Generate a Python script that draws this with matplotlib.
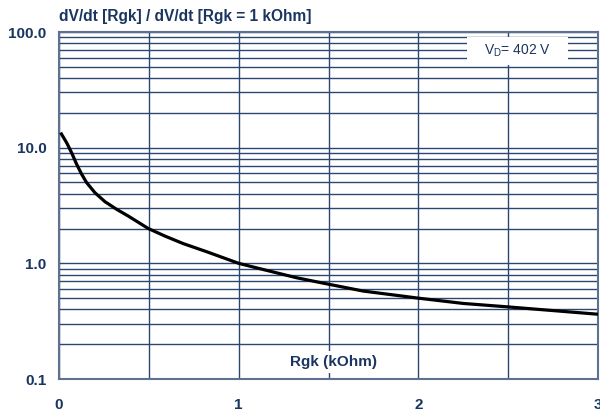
import matplotlib
matplotlib.use("Agg")
import matplotlib.pyplot as plt
from matplotlib.patches import Rectangle

# Data
rgk_kohm = [0.009, 0.043, 0.07, 0.098, 0.126, 0.154, 0.2, 0.256, 0.321, 0.386, 0.45,
            0.497, 0.59, 0.692, 0.822, 1.0, 1.109, 1.323, 1.5, 1.693, 2.0, 2.25,
            2.5, 2.71, 3.0]
ratio = [13.5, 11.0, 9.05, 7.2, 5.9, 4.98, 4.08, 3.41, 2.93, 2.56, 2.22,
         2.0, 1.72, 1.48, 1.26, 1.0, 0.906, 0.75, 0.66, 0.576, 0.50, 0.45,
         0.42, 0.395, 0.363]

x_ticks = [0, 1, 2, 3]
x_tick_labels = ["0", "1", "2", "3"]
x_minor = [0.5, 1.5, 2.5]
y_ticks = [0.1, 1.0, 10.0, 100.0]
y_tick_labels = ["0.1", "1.0", "10.0", "100.0"]

title = "dV/dt [Rgk] / dV/dt [Rgk = 1 kOhm]"
xlabel = "Rgk (kOhm)"
annot = "V$_\\mathregular{D}$= 402 V"

navy = "#1a3560"
gridc = "#2a4673"

plt.rcParams['font.family'] = ['Liberation Sans', 'DejaVu Sans']
plt.rcParams['mathtext.fontset'] = 'custom'
plt.rcParams['mathtext.rm'] = 'Liberation Sans'

fig = plt.figure(figsize=(6, 4.15), dpi=100)
ax = fig.add_axes([59/600, 1-379/415, 539/600, 347/415])

ax.set_yscale('log')
ax.set_xlim(0, 3)
ax.set_ylim(0.1, 100)

ax.plot(rgk_kohm, ratio, color='black', lw=2.3, zorder=5,
        solid_capstyle='butt', solid_joinstyle='round')

ax.set_xticks(x_ticks)
ax.set_xticklabels(x_tick_labels)
ax.set_xticks(x_minor, minor=True)
ax.set_yticks(y_ticks)
ax.set_yticklabels(y_tick_labels)
minor_y = [m * 10.0**e for e in (-1, 0, 1) for m in range(2, 10)]
ax.set_yticks(minor_y, minor=True)
ax.yaxis.set_minor_formatter(matplotlib.ticker.NullFormatter())

ax.grid(True, which='both', color=gridc, lw=1.0, zorder=1)
ax.set_axisbelow(True)
ax.tick_params(which='both', length=0)
ax.tick_params(axis='x', pad=14, labelsize=11, labelcolor=navy)
ax.tick_params(axis='y', pad=9, labelsize=11, labelcolor=navy)
for lab in ax.get_xticklabels() + ax.get_yticklabels():
    lab.set_fontweight('bold')
for s in ax.spines.values():
    s.set_color('#5f7190')
    s.set_linewidth(1.5)

fig.text(59/600, 1-17/415, title, fontsize=11.2, fontweight='bold', color=navy,
         ha='left', va='center')

ax.add_patch(Rectangle((0.757, 0.905), 0.187, 0.081, transform=ax.transAxes,
                       facecolor='white', edgecolor='none', zorder=3))
ax.text((517-59)/539, (379-51)/347, annot, transform=ax.transAxes,
        ha='center', va='center', fontsize=10, color=navy, zorder=4)

ax.text((333-59)/539, (379-362)/347, xlabel, transform=ax.transAxes,
        ha='center', va='center', fontsize=11, fontweight='bold', color=navy,
        zorder=4, bbox=dict(facecolor='white', edgecolor='none', pad=3))

fig.savefig("out.png", dpi=100)
